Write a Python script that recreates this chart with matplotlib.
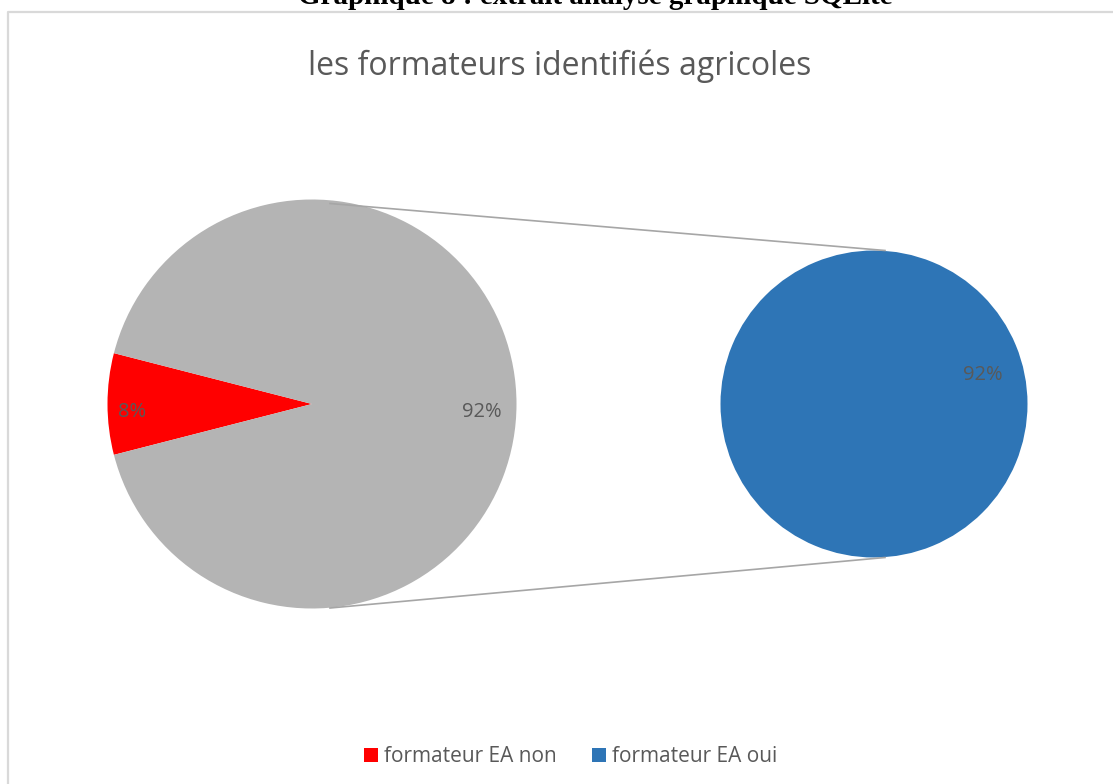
import numpy as np
import matplotlib.pyplot as plt
from matplotlib.patches import Patch

# Data
categories = ['formateur EA non', 'formateur EA oui']
values = [8, 92]
colors = ['#FF0000', '#2E75B6']
other_color = '#B4B4B4'
caption = 'Graphique 8 : extrait analyse graphique SQLite'
title = 'les formateurs identifiés agricoles'

text_gray = '#595959'
plt.rcParams['font.family'] = ['Open Sans', 'DejaVu Sans']

W, H = 1113, 784
fig = plt.figure(figsize=(W / 100, H / 100), dpi=100)
ax = fig.add_axes([0, 0, 1, 1])

# chart frame (cut off right and bottom)
ax.plot([7.5, 7.5, W + 5], [H + 5, 11.5, 11.5], color='#D9D9D9', lw=1.6, clip_on=False)

# caption cut by top edge
fig.text(595 / W, 1 - 4 / H, caption, ha='center', va='baseline',
         family='Liberation Serif', fontweight='bold', fontsize=21)

total = sum(values)
pct = [v / total * 100 for v in values]

# main pie: red slice centred on the left, "other" slice grey
c1, r1 = (312, 404), 204.5
start = 180 - pct[0] / 100 * 180
ax.pie([values[0], values[1]], colors=[colors[0], other_color],
       startangle=start, center=c1, radius=r1, counterclock=True,
       frame=True, wedgeprops=dict(linewidth=0))
# secondary pie: the 92% part
c2, r2 = (874, 404), 153.5
ax.pie([values[1]], colors=[colors[1]], center=c2, radius=r2,
       frame=True, wedgeprops=dict(linewidth=0))
ax.set_xlim(0, W)
ax.set_ylim(H, 0)
ax.axis('off')

ax.text(560, 75, title, ha='center', va='baseline', color=text_gray, fontsize=23)

# connector lines
ax.plot([330, 885], [c1[1] - r1 + 4, c2[1] - r2], color='#A6A6A6', lw=1.2)
ax.plot([330, 885], [c1[1] + r1 - 0.5, c2[1] + r2], color='#A6A6A6', lw=1.2)

# percent labels
def lab(center, radius, ang, dist, txt, dy=7):
    a = np.deg2rad(ang)
    x = center[0] + dist * radius * np.cos(a)
    y = center[1] - dist * radius * np.sin(a) + dy
    ax.text(x, y, txt, ha='center', va='center', color=text_gray, fontsize=14.5)

lab(c1, r1, 180, 0.88, f'{pct[0]:.0f}%', dy=8)
lab(c1, r1, 0, 0.83, f'{pct[1]:.0f}%', dy=8)
lab(c2, r2, 16.6, 0.74, f'{pct[1]:.0f}%', dy=3)

handles = [Patch(facecolor=c, edgecolor='none') for c in colors]
leg = fig.legend(handles, categories, loc='center', bbox_to_anchor=(571 / W, 1 - 757 / H),
                 ncol=2, frameon=False, fontsize=15, handlelength=0.67, handleheight=0.67,
                 handletextpad=0.3, columnspacing=1.68)
for t in leg.get_texts():
    t.set_color(text_gray)

fig.savefig('out.png', dpi=100)
